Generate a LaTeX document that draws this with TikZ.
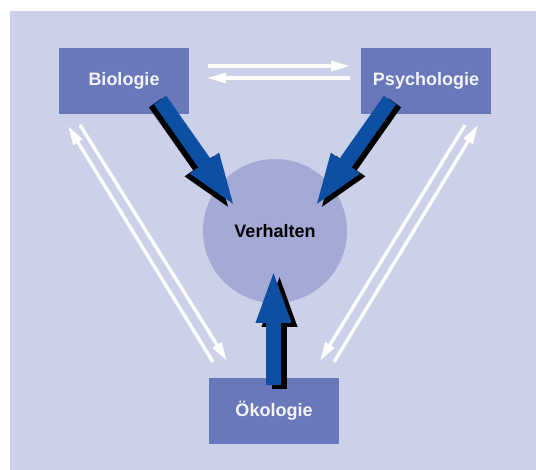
\documentclass[tikz,border=0pt]{standalone}
\usepackage{fontspec}
\setmainfont{Liberation Sans}
\usetikzlibrary{arrows.meta}
\definecolor{bgc}{HTML}{CCD0E8}
\definecolor{boxc}{HTML}{6878BB}
\definecolor{circc}{HTML}{A4AAD5}
\definecolor{bluec}{HTML}{0D4FA2}
\definecolor{txtw}{HTML}{F4F4FA}
\tikzset{
  box/.style={fill=boxc, minimum width=130pt, minimum height=66pt, inner sep=0pt, outer sep=0pt,
    text=txtw, font=\fontsize{18}{21}\selectfont\bfseries},
  circ/.style={circle, fill=circc, minimum size=144pt, inner sep=0pt, outer sep=0pt,
    text=black, font=\fontsize{18}{21}\selectfont\bfseries},
  wline/.style={draw=white, line width=3.4pt, -{Triangle[length=19pt,width=10pt]}},
  fat/.style={line width=15pt, -{Triangle[length=55pt,width=31pt]}},
}
\begin{document}
\begin{tikzpicture}[x=1pt,y=-1pt]
\useasboundingbox (0,0) rectangle (536,470);
\fill[bgc] (10,11) rectangle (536,470);
% nodes
\node[box] (bio) at (124,81) {Biologie};
\node[box] (psy) at (426,81) {Psychologie};
\node[box] (oko) at (274,411) {Ökologie};
\node[circ] (verh) at (275,231) {Verhalten};
% white connector end points
\coordinate (t1s) at (208,66);  \coordinate (t1e) at (350,66);
\coordinate (t2s) at (350,78);  \coordinate (t2e) at (207,78);
\coordinate (l1s) at (213,362); \coordinate (l1e) at (68,126);
\coordinate (l2s) at (80,125);  \coordinate (l2e) at (227,361);
\coordinate (r1s) at (334,362); \coordinate (r1e) at (478,125);
\coordinate (r2s) at (465,125); \coordinate (r2e) at (320,361);
\draw[wline] (t1s) -- (t1e);
\draw[wline] (t2s) -- (t2e);
\draw[wline] (l1s) -- (l1e);
\draw[wline] (l2s) -- (l2e);
\draw[wline] (r1s) -- (r1e);
\draw[wline] (r2s) -- (r2e);
% blue arrows
\coordinate (b1s) at (160,100); \coordinate (b1e) at (236,208);
\coordinate (b2s) at (390,100); \coordinate (b2e) at (314,208);
\coordinate (b3s) at (273.5,385); \coordinate (b3e) at (273.5,268);
\draw[fat, black] ([shift={(-5,3)}]b1s) -- ([shift={(-5,3)}]b1e);
\draw[fat, bluec] (b1s) -- (b1e);
\draw[fat, black] ([shift={(5,3)}]b2s) -- ([shift={(5,3)}]b2e);
\draw[fat, bluec] (b2s) -- (b2e);
\draw[fat, black] ([shift={(6,4)}]b3s) -- ([shift={(6,4)}]b3e);
\draw[fat, bluec] (b3s) -- (b3e);
\end{tikzpicture}
\end{document}
